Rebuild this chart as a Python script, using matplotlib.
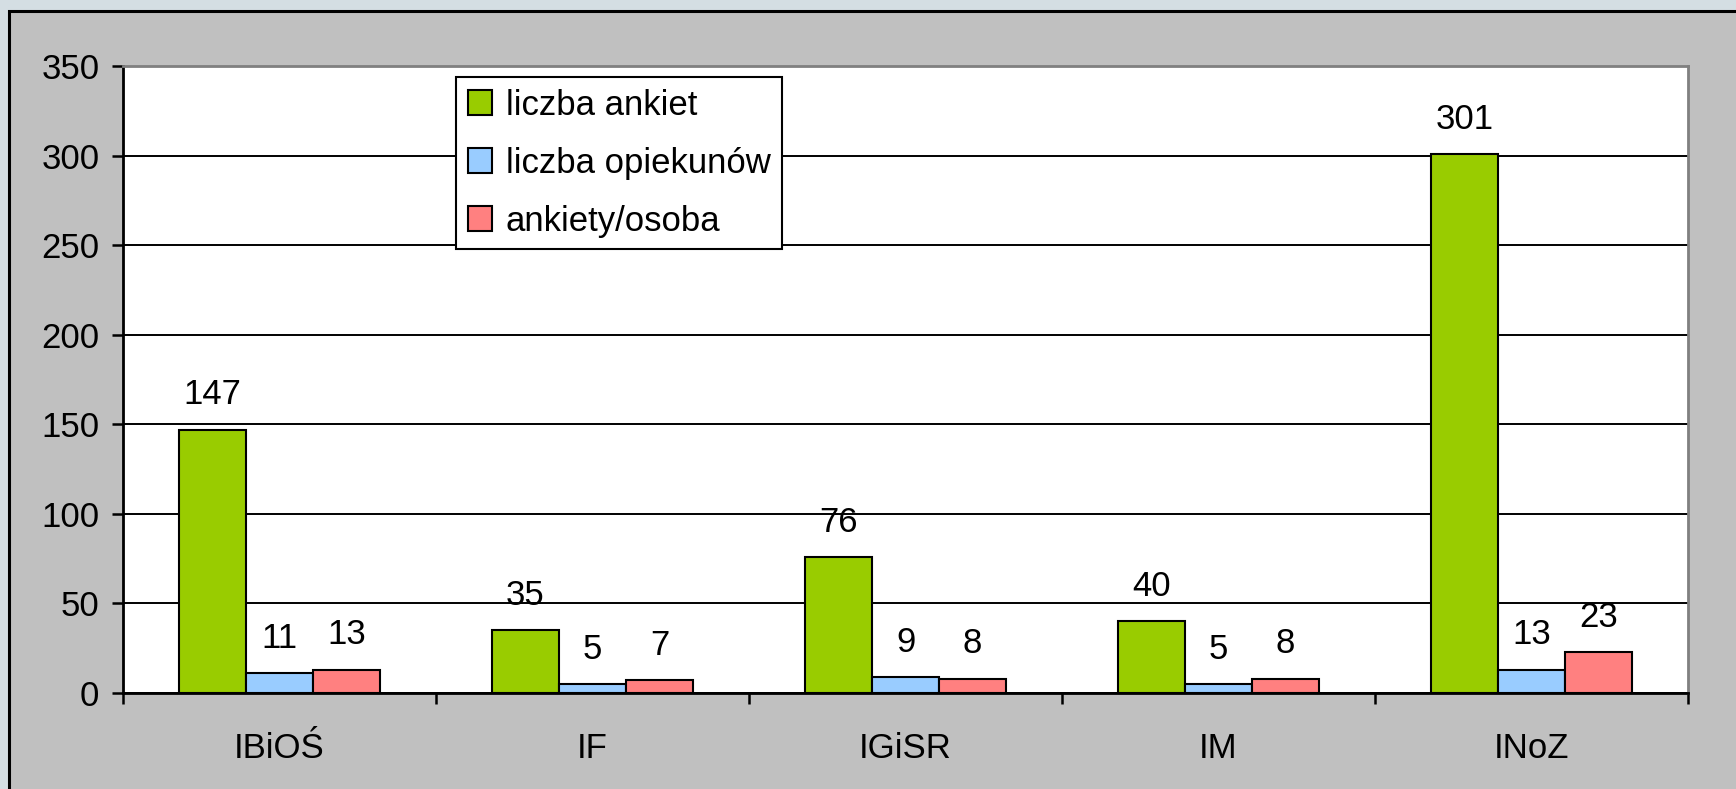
import numpy as np
import matplotlib.pyplot as plt
from matplotlib.patches import Rectangle

# dane wykresu
kategorie = ["IBiOŚ", "IF", "IGiSR", "IM", "INoZ"]
liczba_ankiet = [147, 35, 76, 40, 301]
liczba_opiekunow = [11, 5, 9, 5, 13]
ankiety_osoba = [13, 7, 8, 8, 23]
serie = ["liczba ankiet", "liczba opiekunów", "ankiety/osoba"]
kolory = ["#99CC00", "#99CCFF", "#FF8080"]

plt.rcParams['font.family'] = ['Liberation Sans', 'DejaVu Sans']
FS = 25

W, H = 1736, 789
fig = plt.figure(figsize=(W / 100, H / 100), dpi=100)
fig.patch.set_facecolor("#D4DEE3")

# obszar wykresu (szare tlo z czarna ramka)
fig.patches.append(Rectangle((9 / W, -0.1), 1.2, 1 - 11 / H + 0.1,
                             transform=fig.transFigure, facecolor="#C0C0C0",
                             edgecolor="black", linewidth=2.2, zorder=-10))

ax = fig.add_axes([123 / W, 1 - 693 / H, (1688 - 123) / W, (693 - 66) / H])
ax.set_zorder(5)
ax.set_facecolor("white")

x = np.arange(len(kategorie))
bw = 0.214
dane = [liczba_ankiet, liczba_opiekunow, ankiety_osoba]
for i, (vals, lab, c) in enumerate(zip(dane, serie, kolory)):
    pos = x + (i - 1) * bw
    bars = ax.bar(pos, vals, width=bw, color=c, edgecolor="black",
                  linewidth=1.5, label=lab, zorder=3)
    for b, v in zip(bars, vals):
        ax.annotate(str(v), (b.get_x() + b.get_width() / 2, v),
                    xytext=(0, 25), textcoords="offset points",
                    ha="center", va="center", fontsize=FS, zorder=4)

ax.set_xlim(-0.5, len(kategorie) - 0.5)
ax.set_ylim(0, 350)
ax.set_yticks(np.arange(0, 351, 50))
ax.yaxis.grid(True, color="black", linewidth=1.4, zorder=1)
ax.set_axisbelow(True)

ax.set_xticks(x)
ax.set_xticklabels(kategorie)
ax.set_xticks(np.arange(-0.5, len(kategorie)), minor=True)
ax.tick_params(axis="x", which="major", length=0, pad=28, labelsize=FS)
ax.tick_params(axis="x", which="minor", length=8, width=1.8, direction="out")
ax.tick_params(axis="y", length=8, width=1.8, direction="out", pad=9,
               labelsize=FS)

for s in ["left", "bottom"]:
    ax.spines[s].set_color("black")
    ax.spines[s].set_linewidth(2)
for s in ["top", "right"]:
    ax.spines[s].set_color("#808080")
    ax.spines[s].set_linewidth(2)

leg = ax.legend(loc="upper left", bbox_to_anchor=(0.213, 0.982), fontsize=FS,
                frameon=True, fancybox=False, framealpha=1, edgecolor="black",
                handlelength=0.7, handleheight=0.7, handletextpad=0.4,
                labelspacing=0.72, borderpad=0.33, borderaxespad=0)
leg.get_frame().set_linewidth(1.5)
for h in leg.legend_handles:
    h.set_edgecolor("black")
    h.set_linewidth(1.5)

fig.savefig("out.png", dpi=100, facecolor=fig.get_facecolor())
